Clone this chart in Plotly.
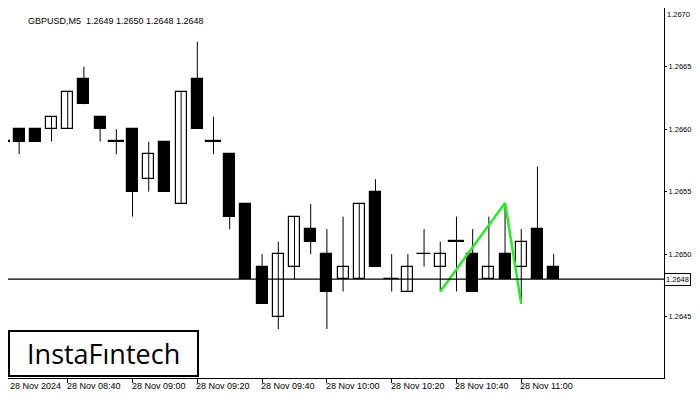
import plotly.graph_objects as go

opens  = [1.2659,1.2660,1.2660,1.2660,1.2660,1.2664,1.2661,1.2659,1.2660,1.2656,1.2659,1.2654,1.2664,1.2659,1.2658,1.2654,1.2649,1.2645,1.2649,1.2652,1.2650,1.2648,1.2648,1.2655,1.2648,1.2647,1.2650,1.2649,1.2651,1.2650,1.2648,1.2650,1.2649,1.2652,1.2649]
highs  = [1.2660,1.2660,1.2660,1.2661,1.2663,1.2665,1.2661,1.2660,1.2660,1.2659,1.2659,1.2663,1.2667,1.2661,1.2658,1.2654,1.2650,1.2651,1.2653,1.2654,1.2652,1.2653,1.2654,1.2656,1.2650,1.2650,1.2652,1.2651,1.2653,1.2652,1.2653,1.2654,1.2652,1.2657,1.2650]
lows   = [1.2658,1.2658,1.2659,1.2659,1.2660,1.2662,1.2659,1.2658,1.2653,1.2655,1.2655,1.2654,1.2660,1.2658,1.2652,1.2648,1.2646,1.2644,1.2648,1.2650,1.2644,1.2647,1.2648,1.2649,1.2647,1.2647,1.2649,1.2647,1.2647,1.2647,1.2648,1.2648,1.2646,1.2648,1.2648]
closes = [1.2659,1.2659,1.2659,1.2661,1.2663,1.2662,1.2660,1.2659,1.2655,1.2658,1.2655,1.2663,1.2660,1.2659,1.2653,1.2648,1.2646,1.2650,1.2653,1.2651,1.2647,1.2649,1.2654,1.2649,1.2648,1.2649,1.2650,1.2650,1.2651,1.2647,1.2649,1.2648,1.2651,1.2648,1.2648]
tick_idx = [0,4,8,12,16,20,24,28,32]
tick_labels = ["28 Nov 2024","28 Nov 08:40","28 Nov 09:00","28 Nov 09:20","28 Nov 09:40","28 Nov 10:00","28 Nov 10:20","28 Nov 10:40","28 Nov 11:00"]
pattern_x = [27, 31, 32]
pattern_y = [1.26470, 1.26541, 1.26460]
last_price = 1.2648
price_ticks = [1.2645,1.2650,1.2655,1.2660,1.2665]
top_tick_label = "1.2670"

FONT = "Liberation Sans"
X0, X1 = 0.3125, 40.8125
Y0, Y1 = 1.264008, 1.26697
PH = 370
n = len(opens)
xs = list(range(n))
fig = go.Figure()

wx, wy = [], []
for i in xs:
    wx += [i, i, None]; wy += [lows[i], highs[i], None]
fig.add_trace(go.Scatter(x=wx, y=wy, mode="lines", line=dict(color="black", width=1), hoverinfo="skip"))

base = [min(o, c) for o, c in zip(opens, closes)]
hgt = [max(abs(c - o), 0.000003) for o, c in zip(opens, closes)]
cols = ["white" if c > o else "black" for o, c in zip(opens, closes)]
fig.add_trace(go.Bar(x=xs, y=hgt, base=base, width=[0.68 if abs(c-o) > 0 else 0.9 for o, c in zip(opens, closes)],
                     marker=dict(color=cols, line=dict(color="black", width=1.2))))

fig.add_hline(y=last_price, line=dict(color="black", width=1.2))
fig.add_trace(go.Scatter(x=pattern_x, y=pattern_y, mode="lines", line=dict(color="#22ee22", width=2.5)))

for i, lab in zip(tick_idx, tick_labels):
    px = max((i - X0) / (X1 - X0), 0)
    fig.add_annotation(x=px, xref="paper", y=0, yref="paper", text=lab, showarrow=False,
                       xanchor="left", yanchor="top", xshift=-3 if i else 0, yshift=-1,
                       font=dict(family=FONT, size=9, color="black"))

fig.add_annotation(x=1, xref="paper", y=last_price, text="1.2648", showarrow=False, xanchor="left", xshift=0,
                   bgcolor="white", bordercolor="black", borderwidth=1, borderpad=1,
                   font=dict(family=FONT, size=7.5, color="black"))
fig.add_annotation(x=1, xref="paper", y=1, yref="paper", yanchor="top", text=top_tick_label, showarrow=False,
                   xanchor="left", xshift=1, font=dict(family=FONT, size=7.5, color="black"))
fig.add_annotation(x=0.027, xref="paper", y=0.985, yref="paper", text="GBPUSD,M5  1.2649 1.2650 1.2648 1.2648",
                   showarrow=False, xanchor="left", yanchor="top", font=dict(family=FONT, size=9, color="black"))
fig.add_annotation(x=0, xref="paper", y=0.0, yref="paper", yshift=1, text="&nbsp;&nbsp;InstaF\u0131ntech&nbsp;&nbsp;",
                   showarrow=False, xanchor="left", yanchor="bottom", bgcolor="white", bordercolor="black",
                   borderwidth=2, borderpad=3, font=dict(family="Open Sans", size=27, color="black"))

fig.update_layout(
    width=692, height=384, margin=dict(l=0, r=36, t=0, b=14, autoexpand=False),
    paper_bgcolor="white", plot_bgcolor="white", showlegend=False, bargap=0,
    xaxis=dict(range=[X0, X1], tickvals=tick_idx, ticktext=[""]*len(tick_idx), ticks="outside", ticklen=4,
               tickcolor="black", showgrid=False, zeroline=False, showline=True, linecolor="black", mirror=True),
    yaxis=dict(range=[Y0, Y1], side="right", tickvals=price_ticks, tickformat=".4f", ticks="outside",
               ticklen=2, tickcolor="black", showgrid=False, zeroline=False, showline=True, linecolor="black",
               mirror=True, tickfont=dict(family=FONT, size=7.5, color="black")),
)
fig.write_html("out.html")
